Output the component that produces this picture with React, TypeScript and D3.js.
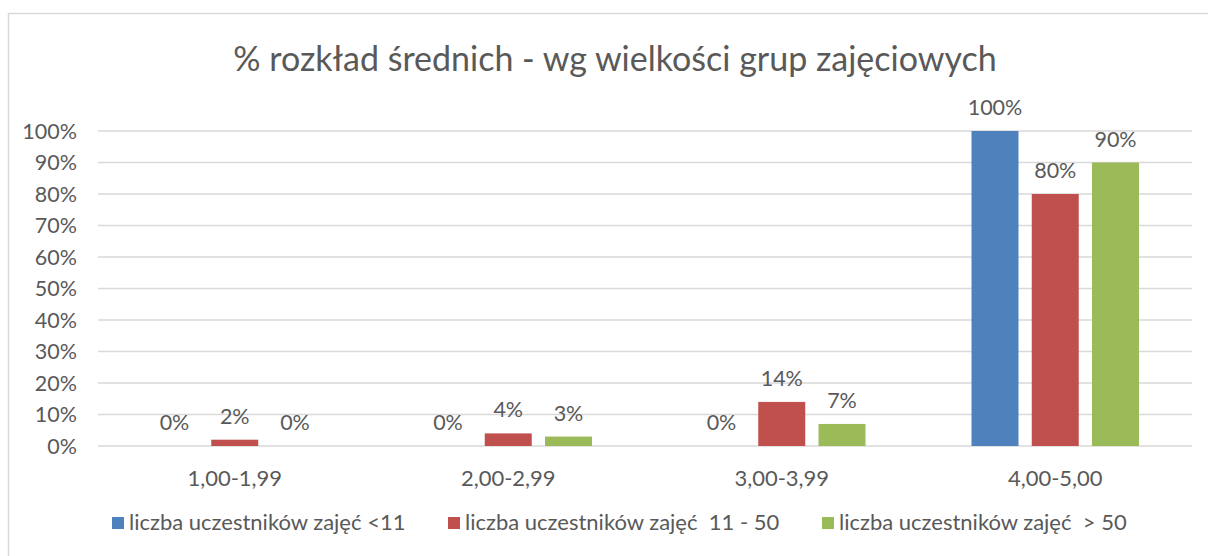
import { useEffect, useRef } from "react";
import * as d3 from "d3";

const categories = ["1,00-1,99", "2,00-2,99", "3,00-3,99", "4,00-5,00"];
const seriesNames = [
  "liczba uczestników zajęć <11",
  "liczba uczestników zajęć  11 - 50",
  "liczba uczestników zajęć  > 50",
];
const seriesColors = ["#4f81bd", "#c0504d", "#9bbb59"];
const small = [0, 0, 0, 100];
const medium = [2, 4, 14, 80];
const large = [0, 3, 7, 90];
const yTicks = [0, 10, 20, 30, 40, 50, 60, 70, 80, 90, 100];

const W = 1208;
const H = 556;
const FONT = "Lato, 'Open Sans', sans-serif";
const TEXT = "#595959";

export default function App() {
  const svgRef = useRef<SVGSVGElement | null>(null);

  useEffect(() => {
    const svgEl = svgRef.current;
    if (!svgEl) return;
    const svg = d3.select(svgEl);
    svg.selectAll("*").remove();

    const margin = { top: 131, right: 16, bottom: 110, left: 98 };
    const values = [small, medium, large];

    // chart frame
    svg.append("rect")
      .attr("x", 8.5).attr("y", 13.5)
      .attr("width", W + 20).attr("height", H + 20)
      .attr("fill", "#fff")
      .attr("stroke", "#d9d9d9")
      .attr("stroke-width", 1.5);

    svg.append("text")
      .attr("x", 615).attr("y", 71)
      .attr("text-anchor", "middle")
      .attr("font-family", FONT)
      .attr("font-size", 34)
      .attr("fill", TEXT)
      .text("% rozkład średnich - wg wielkości grup zajęciowych");

    const x0 = d3.scaleBand<string>()
      .domain(categories)
      .range([margin.left, W - margin.right]);

    const x1 = d3.scaleBand<number>()
      .domain([0, 1, 2])
      .range([53, x0.bandwidth() - 53])
      .paddingInner(0.22);

    const y = d3.scaleLinear()
      .domain([0, 100])
      .range([446, margin.top]);

    const g = svg.append("g");

    g.selectAll("line.grid")
      .data(yTicks)
      .join("line")
      .attr("class", "grid")
      .attr("x1", margin.left)
      .attr("x2", W - margin.right)
      .attr("y1", (d) => y(d))
      .attr("y2", (d) => y(d))
      .attr("stroke", "#d9d9d9")
      .attr("stroke-width", 1.5);

    g.selectAll("text.ytick")
      .data(yTicks)
      .join("text")
      .attr("class", "ytick")
      .attr("x", 77)
      .attr("y", (d) => y(d) + 7.5)
      .attr("text-anchor", "end")
      .attr("font-family", FONT)
      .attr("font-size", 21.5)
      .attr("fill", TEXT)
      .text((d) => `${d}%`);

    values.forEach((vals, si) => {
      const bars = g.append("g");
      bars.selectAll("rect")
        .data(vals)
        .join("rect")
        .attr("x", (_, i) => x0(categories[i])! + x1(si)!)
        .attr("width", x1.bandwidth())
        .attr("y", (d) => y(d))
        .attr("height", (d) => 446 - y(d))
        .attr("fill", seriesColors[si]);

      bars.selectAll("text")
        .data(vals)
        .join("text")
        .attr("x", (_, i) => x0(categories[i])! + x1(si)! + x1.bandwidth() / 2)
        .attr("y", (d) => y(d) - 16)
        .attr("text-anchor", "middle")
        .attr("font-family", FONT)
        .attr("font-size", 21.5)
        .attr("fill", TEXT)
        .text((d) => `${d}%`);
    });

    g.selectAll("text.xtick")
      .data(categories)
      .join("text")
      .attr("class", "xtick")
      .attr("x", (d) => x0(d)! + x0.bandwidth() / 2)
      .attr("y", 486)
      .attr("text-anchor", "middle")
      .attr("font-family", FONT)
      .attr("font-size", 22)
      .attr("fill", TEXT)
      .text((d) => d);

    const legendX = [112, 448, 822];
    const legend = svg.append("g");
    seriesNames.forEach((name, i) => {
      legend.append("rect")
        .attr("x", legendX[i]).attr("y", 517)
        .attr("width", 12).attr("height", 12)
        .attr("fill", seriesColors[i]);
      legend.append("text")
        .attr("x", legendX[i] + 17).attr("y", 530)
        .attr("font-family", FONT)
        .attr("font-size", 22)
        .attr("fill", TEXT)
        .style("white-space", "pre")
        .text(name);
    });
  }, []);

  return (
    <svg
      ref={svgRef}
      width={W}
      height={H}
      style={{ position: "absolute", left: 0, top: 0, background: "#fff" }}
    />
  );
}
